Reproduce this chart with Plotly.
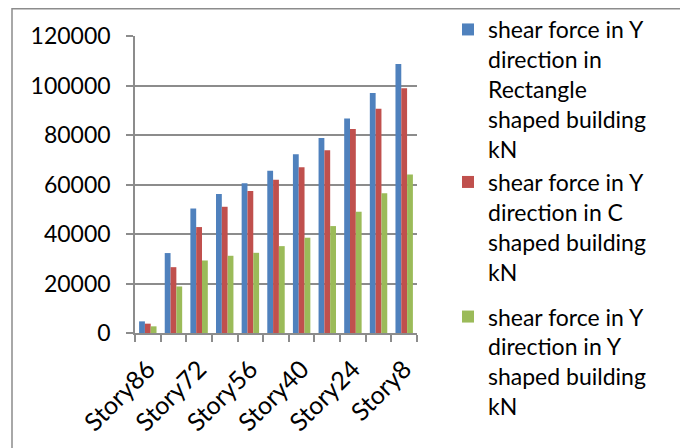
import plotly.graph_objects as go

categories = ["Story86", "Story80", "Story72", "Story64", "Story56", "Story48",
              "Story40", "Story32", "Story24", "Story16", "Story8"]
tick_every = 2

rect_vals = [4700, 32300, 50300, 56200, 60500, 65600, 72200, 78800, 86700, 97000, 108700]
c_vals = [3770, 26600, 42800, 51000, 57400, 61900, 67000, 73800, 82400, 90600, 98900]
y_vals = [2690, 18800, 29300, 31200, 32400, 35100, 38500, 43200, 49000, 56500, 64000]

series_names = [
    "shear force in Y<br>direction in<br>Rectangle<br>shaped building<br>kN",
    "shear force in Y<br>direction in C<br>shaped building<br>kN",
    "shear force in Y<br>direction in Y<br>shaped building<br>kN",
]
legend_groups = ["a", "a", "b"]
series_colors = ["#4F81BD", "#C0504D", "#9BBB59"]
y_ticks = [0, 20000, 40000, 60000, 80000, 100000, 120000]

xpos = list(range(len(categories)))

fig = go.Figure()
for name, vals, col, grp in zip(series_names, [rect_vals, c_vals, y_vals],
                                series_colors, legend_groups):
    fig.add_trace(go.Bar(x=xpos, y=vals, name=name, marker_color=col,
                         marker_line_width=0, legendgroup=grp))

# page body has an 8px margin; figure is sized/offset to fill the 688x448 window
W, H = 680, 440
L, T = 127, 28
R = W - 409
B = H - 325.3
pw, ph = W - L - R, H - T - B

fig.update_layout(
    width=W, height=H,
    margin=dict(l=L, r=R, t=T, b=B, pad=0),
    paper_bgcolor="white", plot_bgcolor="white",
    barmode="group", bargap=0.32, bargroupgap=0,
    font=dict(family="Lato, Carlito, sans-serif", size=22, color="black"),
    showlegend=True,
    legend=dict(xref="container", yref="container", x=440 / W, y=1.012,
                xanchor="left", yanchor="top",
                font=dict(family="Lato, sans-serif", size=23),
                traceorder="grouped", tracegroupgap=12, valign="top",
                itemwidth=30, bgcolor="rgba(0,0,0,0)", maxheight=1),
    xaxis=dict(range=[-0.5, len(categories) - 0.5],
               tickmode="array",
               tickvals=xpos[::tick_every],
               ticktext=categories[::tick_every],
               tickangle=-45, ticks="", showgrid=False, zeroline=False,
               showline=True, linecolor="#8C8C8C", linewidth=1.5,
               minor=dict(ticks="outside", tick0=-0.5, dtick=1, ticklen=7,
                          tickcolor="#8C8C8C", tickwidth=1.5, showgrid=False),
               ticklabelstandoff=10,
               tickfont=dict(size=25)),
    yaxis=dict(range=[0, 120000], tickvals=y_ticks,
               ticktext=[str(v) for v in y_ticks],
               showgrid=True, gridcolor="#8C8C8C", gridwidth=1.5,
               zeroline=False, showline=True, linecolor="#8C8C8C", linewidth=1.5,
               ticks="outside", ticklen=7, tickcolor="#8C8C8C", tickwidth=1.5,
               ticklabelstandoff=11,
               tickfont=dict(size=23)),
)

# outer chart border
fig.add_shape(type="rect", xref="paper", yref="paper",
              x0=(4 - L) / pw, x1=(673 - L) / pw,
              y0=(H - B - 450) / ph, y1=(H - B - 0.75) / ph,
              line=dict(color="#8C8C8C", width=1.5), fillcolor="rgba(0,0,0,0)",
              layer="below")

fig.write_html("out.html")
